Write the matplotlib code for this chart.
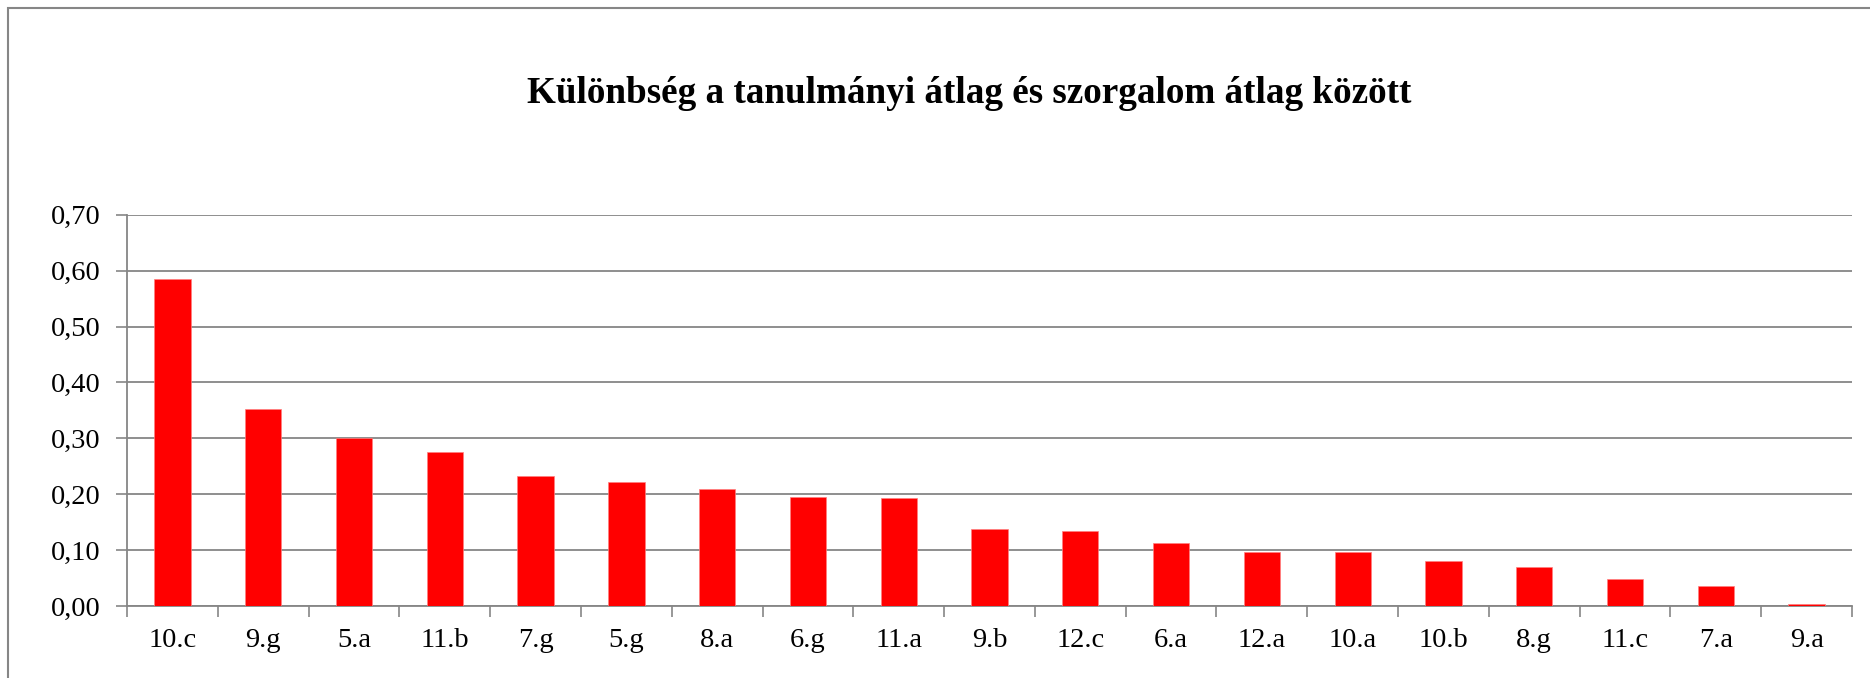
import matplotlib
matplotlib.use("Agg")
import matplotlib.pyplot as plt
from matplotlib.patches import Rectangle
from matplotlib.ticker import FixedLocator, NullFormatter

categories = ["10.c", "9.g", "5.a", "11.b", "7.g", "5.g", "8.a", "6.g", "11.a", "9.b",
              "12.c", "6.a", "12.a", "10.a", "10.b", "8.g", "11.c", "7.a", "9.a"]
values = [0.585, 0.352, 0.300, 0.276, 0.233, 0.222, 0.210, 0.195, 0.193, 0.137,
          0.135, 0.112, 0.097, 0.096, 0.080, 0.070, 0.049, 0.036, 0.004]
yticks = [0.0, 0.1, 0.2, 0.3, 0.4, 0.5, 0.6, 0.7]
ytick_labels = ["0,00", "0,10", "0,20", "0,30", "0,40", "0,50", "0,60", "0,70"]
title = "Különbség a tanulmányi átlag és szorgalom átlag között"

W, H = 1870, 678
fig = plt.figure(figsize=(W / 100, H / 100), dpi=100)
fig.patch.set_facecolor("white")

grey = "#868686"
serif = ["Liberation Serif", "DejaVu Serif"]

# outer chart frame (only left and top edges visible)
fig.add_artist(Rectangle((8 / W, -0.1), 1.2, 1.0 - 8 / H + 0.1, transform=fig.transFigure,
                         fill=False, edgecolor=grey, linewidth=1.5))

ax = fig.add_axes([127 / W, (H - 606) / H, (1852 - 127) / W, (606 - 214.7) / H])
x = list(range(len(categories)))
ax.bar(x, values, width=0.4, color="#FF0000", edgecolor="#FF8080", linewidth=0.5, zorder=5)

ax.set_xlim(-0.5, len(categories) - 0.5)
ax.set_ylim(0, 0.7)
ax.set_yticks(yticks)
ax.set_yticklabels(ytick_labels, fontsize=20.5, family=serif)
ax.set_xticks(x)
ax.set_xticklabels(categories, fontsize=20.5, family=serif)
ax.tick_params(axis="x", which="major", length=0, pad=16)
ax.xaxis.set_minor_locator(FixedLocator([i - 0.5 for i in range(len(categories) + 1)]))
ax.xaxis.set_minor_formatter(NullFormatter())
ax.tick_params(axis="x", which="minor", length=8, width=1.2, color=grey, direction="out")
ax.tick_params(axis="y", length=8, width=1.2, color=grey, direction="out", pad=11)

ax.grid(axis="y", color=grey, linewidth=1.3, zorder=0)
ax.set_axisbelow(True)
for s in ["top", "right"]:
    ax.spines[s].set_visible(False)
for s in ["left", "bottom"]:
    ax.spines[s].set_color(grey)
    ax.spines[s].set_linewidth(1.3)
    ax.spines[s].set_zorder(4)

fig.text(969 / W, 1 - 103 / H, title, ha="center", va="baseline", fontsize=26.7,
         fontweight="bold", family=serif)

fig.savefig("out.png", dpi=100, facecolor="white")
